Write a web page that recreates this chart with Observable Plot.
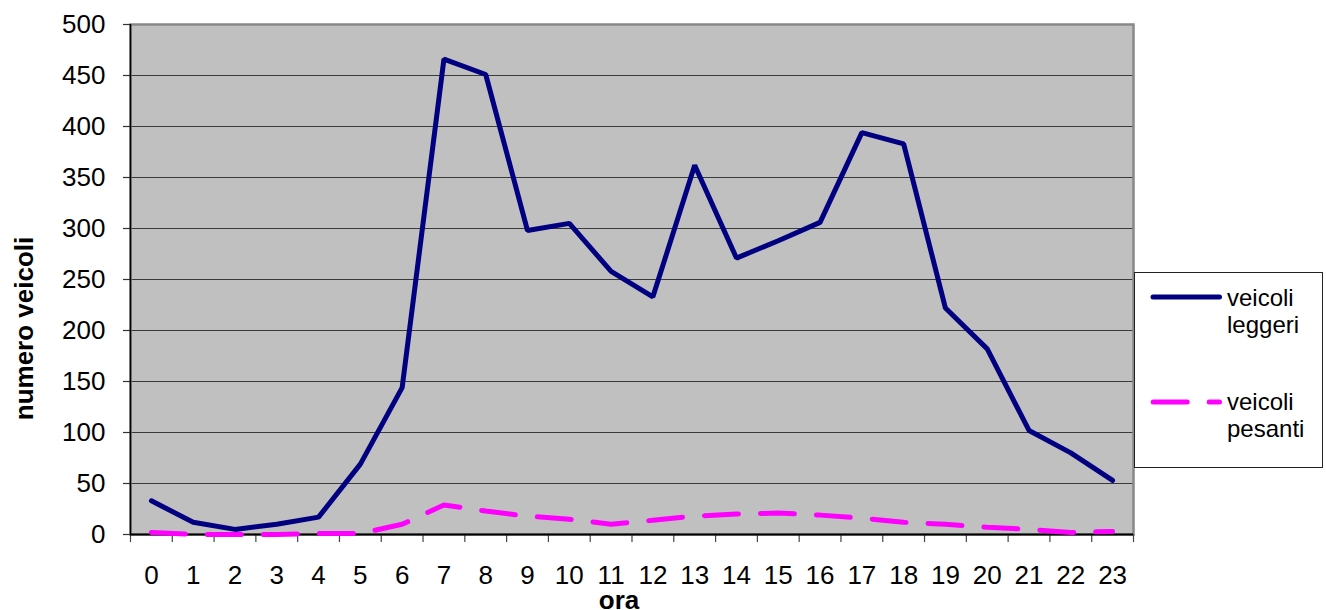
<!DOCTYPE html>
<html><head><meta charset="utf-8">
<script src="https://cdn.jsdelivr.net/npm/d3@7"></script>
<script src="https://cdn.jsdelivr.net/npm/@observablehq/plot@0.6"></script>
<style>body{margin:0;background:#fff;} #chart{width:1326px;height:610px;}</style>
</head><body><div id="chart"></div>
<script>
const hours = [0,1,2,3,4,5,6,7,8,9,10,11,12,13,14,15,16,17,18,19,20,21,22,23];
const leggeri = [33,12,5,10,17,69,144,466,451,298,305,258,233,362,271,288,306,394,383,222,182,102,80,53];
const pesanti = [2,0,0,0,1,1,10,29,23,18,15,10,14,18,20,21,19,16,12,10,7,5,2,3];
const yTicks = [0,50,100,150,200,250,300,350,400,450,500];
const seriesNames = ["veicoli leggeri","veicoli pesanti"];
const xTitle = "ora";
const yTitle = "numero veicoli";

const data = hours.flatMap((h,i)=>[
  {ora:h, n:leggeri[i], s:seriesNames[0]},
  {ora:h, n:pesanti[i], s:seriesNames[1]}
]);
const bounds = hours.map(h=>h-0.5).concat([hours[hours.length-1]+0.5]);
const font = "'Liberation Sans', Arial, sans-serif";

const plot = Plot.plot({
  width:1326, height:610,
  marginLeft:130, marginRight:193, marginTop:24, marginBottom:76,
  style:{fontFamily:font, fontSize:"26px", color:"#000", background:"#fff", overflow:"visible"},
  x:{type:"linear", domain:[bounds[0], bounds[bounds.length-1]]},
  y:{domain:[0,500]},
  marks:[
    Plot.frame({fill:"#c0c0c0"}),
    Plot.gridY({ticks:yTicks.filter(v=>v>0 && v<500), stroke:"#3a3a3a", strokeOpacity:1, strokeWidth:1.2}),
    Plot.frame({stroke:"#888", strokeWidth:2.5}),
    Plot.axisY({ticks:yTicks, tickSize:7, tickPadding:18, label:null, stroke:"#333", strokeWidth:1.2}),
    Plot.axisX({ticks:hours, tickSize:0, tickPadding:31, label:null, tickFormat:d=>String(d)}),
    Plot.axisX({ticks:bounds, tickSize:8, tickFormat:()=>"", label:null, stroke:"#444", strokeWidth:1.2}),
    Plot.ruleY([0], {stroke:"#000", strokeWidth:2}),
    Plot.ruleX([bounds[0]], {stroke:"#000", strokeWidth:1.5}),
    Plot.line(data, {filter:d=>d.s===seriesNames[1], x:"ora", y:"n", stroke:"#ff00ff", strokeWidth:5,
      strokeDasharray:"34,22", strokeLinecap:"round", strokeLinejoin:"round"}),
    Plot.line(data, {filter:d=>d.s===seriesNames[0], x:"ora", y:"n", stroke:"#000080", strokeWidth:5,
      strokeLinecap:"round", strokeLinejoin:"miter"}),
    Plot.text([xTitle], {frameAnchor:"bottom", text:d=>d, fontWeight:"bold", fontSize:26,
      lineAnchor:"middle", dx:-13, dy:66})
  ]
});

const svg = d3.select(plot);
// y title
svg.append("text").attr("transform","translate(33,328.5) rotate(-90)")
  .attr("text-anchor","middle").attr("font-family",font).attr("font-size",26)
  .attr("font-weight","bold").attr("fill","#000").text(yTitle);

// legend
const g = svg.append("g").attr("font-family", font).attr("font-size", 24)
  .attr("fill", "#000").attr("text-anchor","start");
g.append("rect").attr("x",1134.5).attr("y",272.5).attr("width",188).attr("height",195)
  .attr("fill","#fff").attr("stroke","#222").attr("stroke-width",1);
g.append("line").attr("x1",1153).attr("x2",1219.5).attr("y1",297).attr("y2",297)
  .attr("stroke","#000080").attr("stroke-width",5).attr("stroke-linecap","round");
g.append("line").attr("x1",1153.2).attr("x2",1219.5).attr("y1",402).attr("y2",402)
  .attr("stroke","#ff00ff").attr("stroke-width",5).attr("stroke-linecap","round").attr("stroke-dasharray","34,22");
const lines = [seriesNames[0].split(" "), seriesNames[1].split(" ")];
[[306,333],[410,437]].forEach((ys,i)=>{
  lines[i].forEach((w,j)=>g.append("text").attr("x",1227).attr("y",ys[j]).text(w));
});

document.getElementById("chart").appendChild(plot);
</script>
</body></html>
